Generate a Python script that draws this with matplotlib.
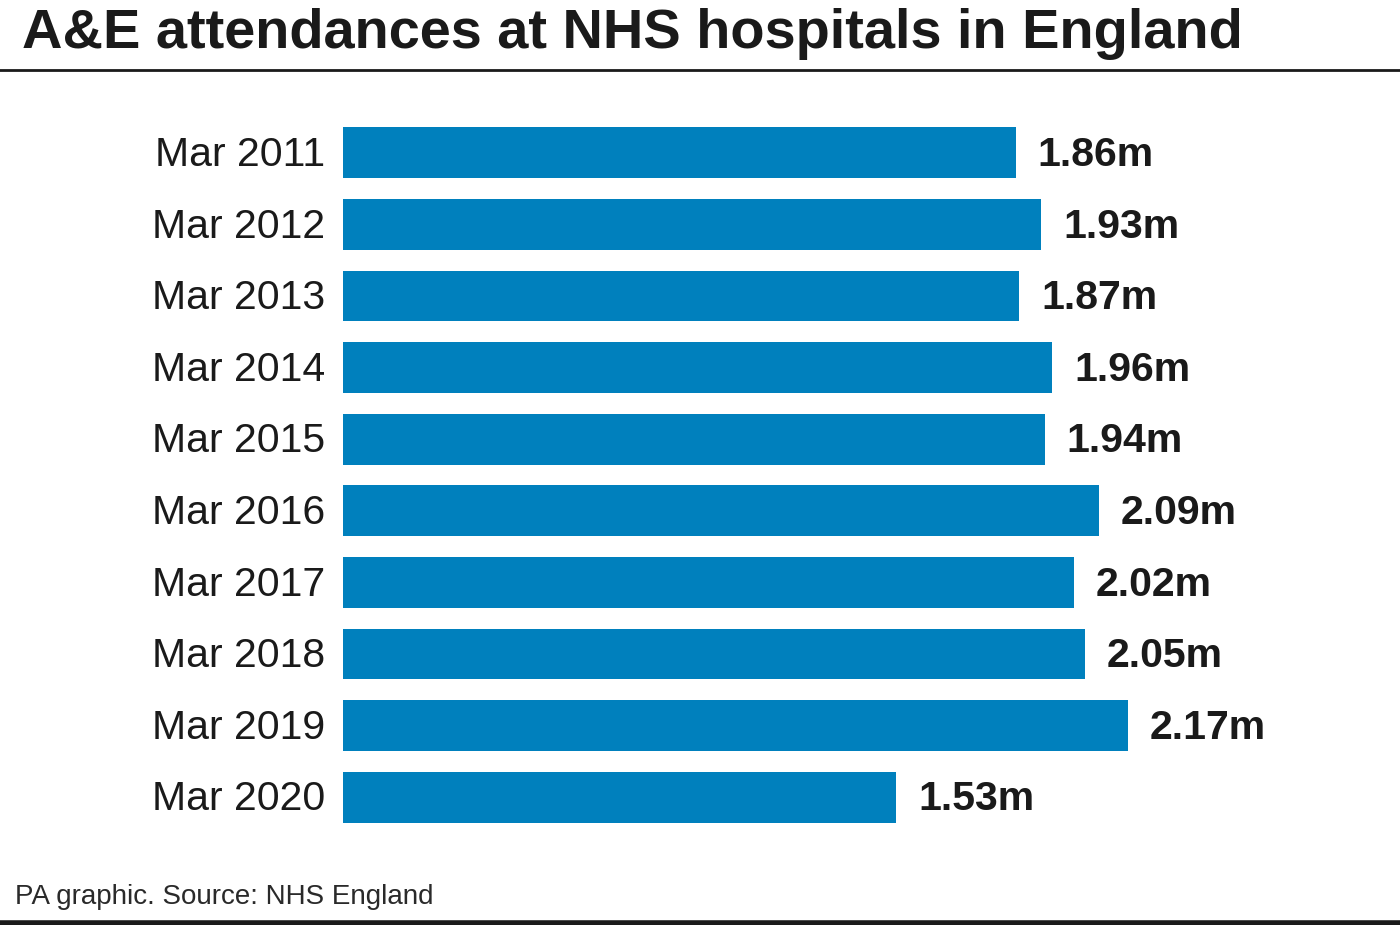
import matplotlib
matplotlib.use("Agg")
import matplotlib.pyplot as plt

plt.rcParams['font.family'] = ['Liberation Sans', 'DejaVu Sans']

# data (millions of attendances)
months = ["Mar 2011", "Mar 2012", "Mar 2013", "Mar 2014", "Mar 2015",
          "Mar 2016", "Mar 2017", "Mar 2018", "Mar 2019", "Mar 2020"]
attendances = [1.86, 1.93, 1.87, 1.96, 1.94, 2.09, 2.02, 2.05, 2.17, 1.53]
value_labels = ["1.86m", "1.93m", "1.87m", "1.96m", "1.94m",
                "2.09m", "2.02m", "2.05m", "2.17m", "1.53m"]

W, H = 1400, 925
fig = plt.figure(figsize=(W / 100, H / 100), dpi=100)

bar_color = '#0080bd'
text_color = '#1a1a1a'

# axes: bar base at x=343px, 361.75 px per million
left_px = 343
scale = 361.75
top_px, bottom_px = 117, 833
ax = fig.add_axes([left_px / W, 1 - bottom_px / H, 1 - left_px / W, (bottom_px - top_px) / H])
ypos = list(range(len(months)))
ax.barh(ypos, attendances, height=0.71, color=bar_color)
ax.set_xlim(0, (W - left_px) / scale)
ax.set_ylim(len(months) - 0.5, -0.5)
ax.axis('off')

for y, v, lab, m in zip(ypos, attendances, value_labels, months):
    ax.text(v + 22 / scale, y + 0.03, lab, va='center', ha='left', fontsize=29.5,
            fontweight='bold', color=text_color)
    ax.text(-18 / scale, y + 0.03, m, va='center', ha='right', fontsize=29.5,
            color=text_color)

fig.text(22 / W, 1 - 34 / H, "A&E attendances at NHS hospitals in England",
         fontsize=40.3, fontweight='bold', color=text_color, ha='left', va='center')

fig.add_artist(plt.Line2D([0, 1], [1 - 70 / H, 1 - 70 / H], color=text_color, lw=2))
fig.add_artist(plt.Line2D([0, 1], [1 - 922.5 / H, 1 - 922.5 / H], color=text_color, lw=4))

fig.text(15 / W, 1 - 897 / H, "PA graphic. Source: NHS England",
         fontsize=20, color='#2a2a2a', ha='left', va='center')

fig.savefig("out.png", dpi=100, facecolor='white')
